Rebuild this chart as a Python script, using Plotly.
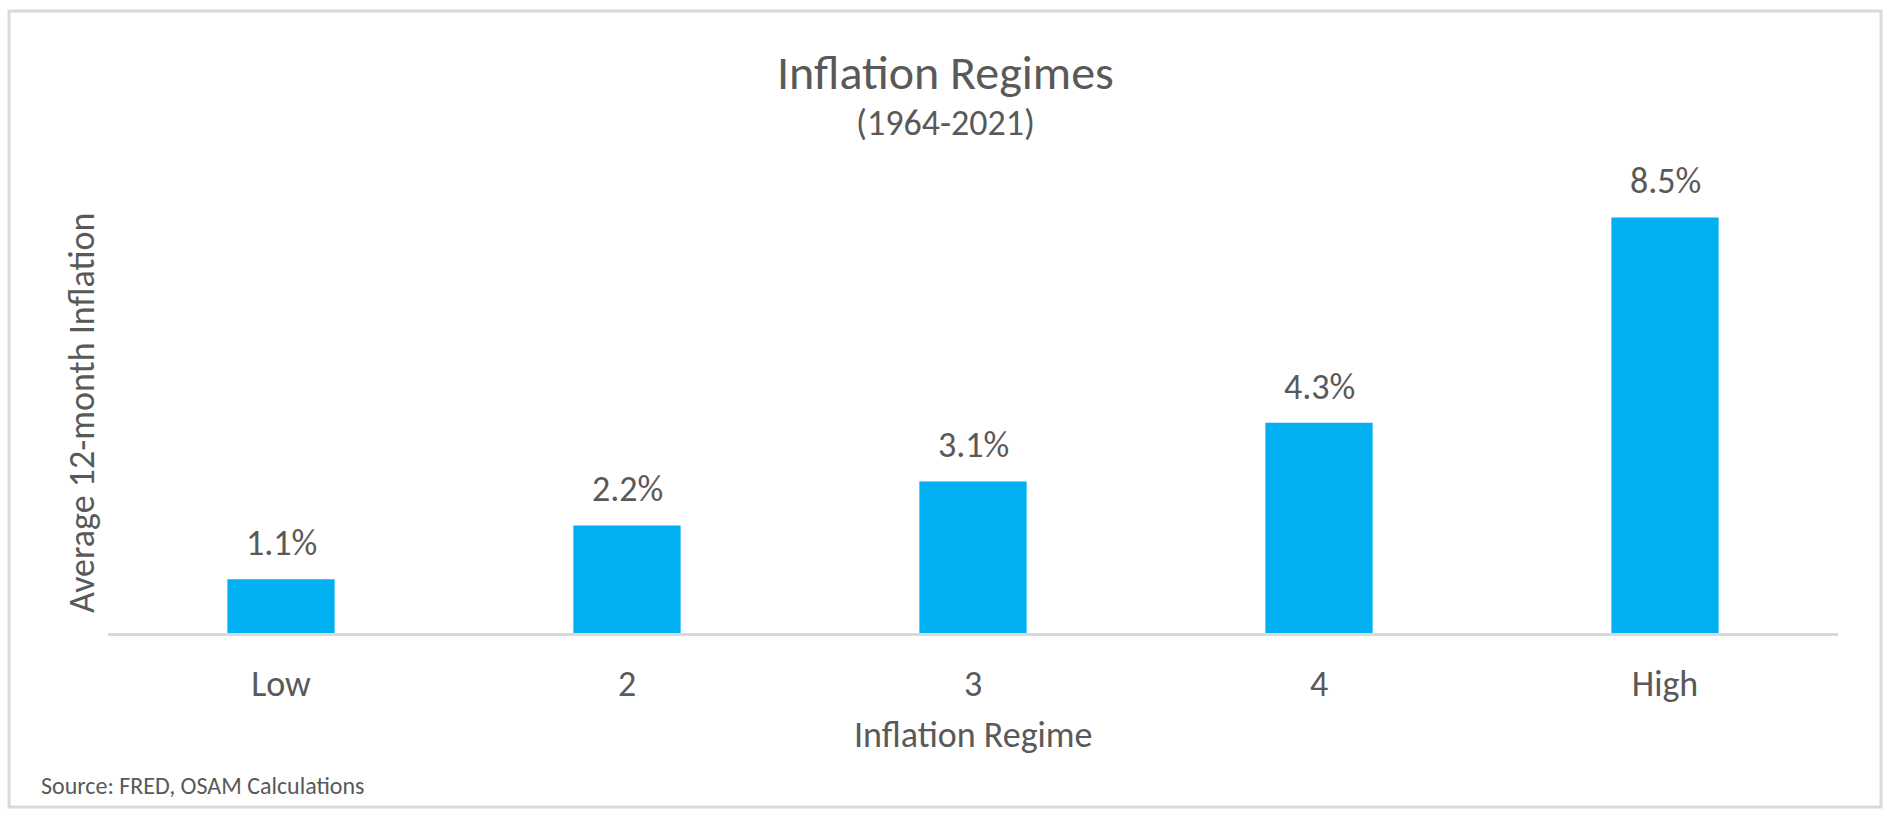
import plotly.graph_objects as go

# ---- data ----
regimes = ["Low", "2", "3", "4", "High"]
avg_inflation = [1.1, 2.2, 3.1, 4.3, 8.5]
y_max = 9

title_text = "Inflation Regimes"
subtitle_text = "(1964-2021)"
x_title = "Inflation Regime"
y_title = "Average 12-month Inflation"
source_text = "Source: FRED, OSAM Calculations"

# ---- layout constants ----
W, H = 1891, 818
L, R, T, B = 108, 53, 192.5, 184.5
pw = W - L - R
ph = H - T - B

FONT = "Calibri, Carlito, Lato, sans-serif"
GREY = "#595959"
LINE = "#D9D9D9"
BAR = "#00B0F0"
FS = 36


def px(xp):
    return (xp - L) / pw


def py(yp):
    return (H - B - yp) / ph


fig = go.Figure()
fig.add_trace(go.Bar(
    x=regimes, y=avg_inflation, marker=dict(color=BAR, line=dict(width=0)),
    hoverinfo="x+y", showlegend=False,
))

# data labels
for i, v in enumerate(avg_inflation):
    fig.add_annotation(x=i, y=v, xref="x", yref="y", text=f"{v:.1f}%",
                       showarrow=False, yanchor="middle", yshift=36,
                       font=dict(family=FONT, size=FS, color=GREY))

# titles
fig.add_annotation(x=px(W / 2), y=py(72), xref="paper", yref="paper",
                   text=title_text, showarrow=False, xanchor="center", yanchor="middle",
                   font=dict(family=FONT, size=48, color=GREY))
fig.add_annotation(x=px(W / 2), y=py(122), xref="paper", yref="paper",
                   text=subtitle_text, showarrow=False, xanchor="center", yanchor="middle",
                   font=dict(family=FONT, size=FS, color=GREY))
fig.add_annotation(x=0.5, y=py(736), xref="paper", yref="paper",
                   text=x_title, showarrow=False, xanchor="center", yanchor="middle",
                   font=dict(family=FONT, size=FS, color=GREY))
fig.add_annotation(x=px(82), y=0.5, xref="paper", yref="paper",
                   text=y_title, showarrow=False, xanchor="center", yanchor="middle",
                   textangle=-90, font=dict(family=FONT, size=FS, color=GREY))
fig.add_annotation(x=px(39), y=py(786), xref="paper", yref="paper",
                   text=source_text, showarrow=False, xanchor="left", yanchor="middle",
                   font=dict(family=FONT, size=24, color=GREY))

# outer border
fig.add_shape(type="rect", xref="paper", yref="paper",
              x0=px(9), x1=px(1881), y0=py(808), y1=py(10),
              line=dict(color=LINE, width=3), fillcolor="rgba(0,0,0,0)", layer="below")

fig.update_layout(
    width=W, height=H,
    margin=dict(l=L, r=R, t=T, b=B, autoexpand=False),
    paper_bgcolor="white", plot_bgcolor="white",
    bargap=0.69,
    font=dict(family=FONT, color=GREY),
    xaxis=dict(type="category", showline=True, linecolor=LINE, linewidth=3,
               ticks="", showgrid=False, zeroline=False,
               tickfont=dict(family=FONT, size=FS, color=GREY),
               ticklabelstandoff=17),
    yaxis=dict(range=[0, y_max], showticklabels=False, showgrid=False,
               zeroline=False, showline=False, ticks=""),
)

fig.write_html("out.html", config={"displayModeBar": False},
               post_script="document.body.style.margin='0';document.body.style.overflow='hidden';")
